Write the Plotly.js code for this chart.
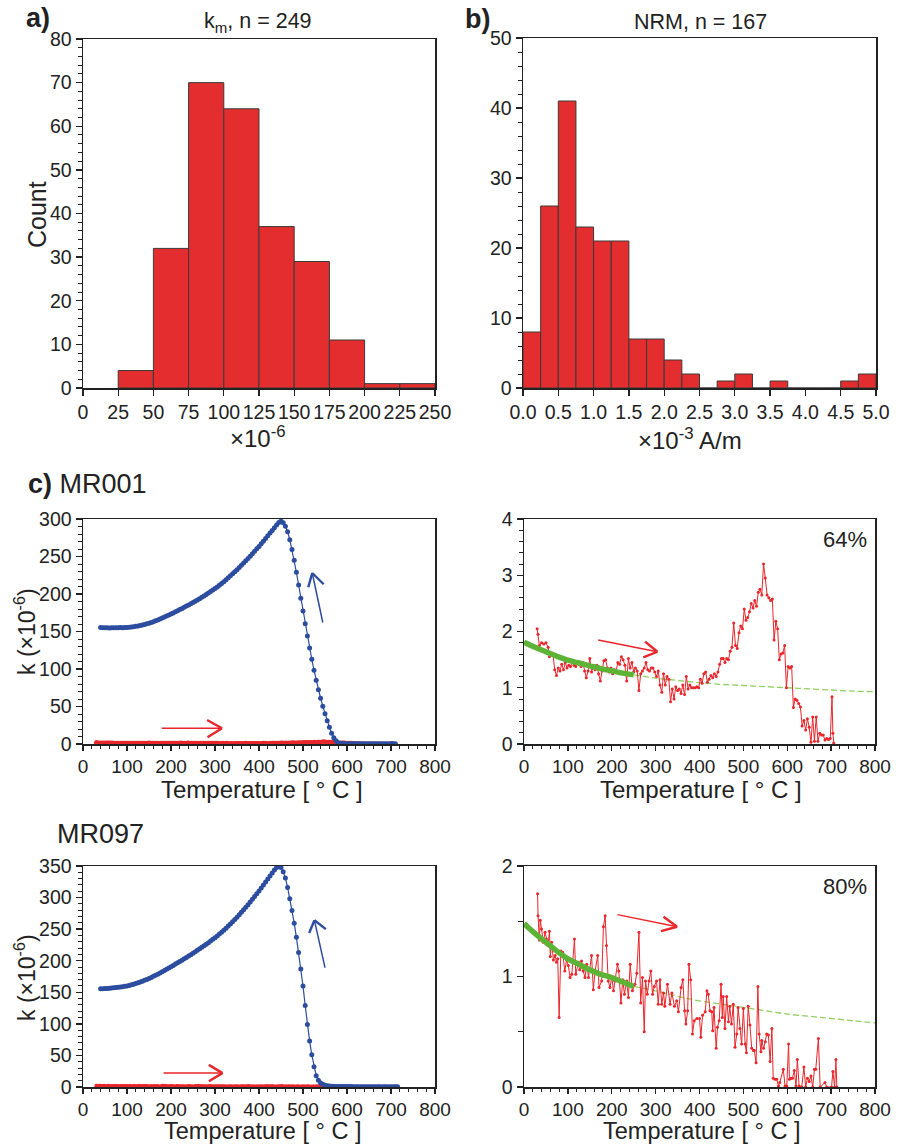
<!DOCTYPE html>
<html>
<head>
<meta charset="utf-8">
<script src="https://cdn.plot.ly/plotly-3.0.1.min.js"></script>
<style>html,body{margin:0;padding:0;background:#fff;}#chart{width:898px;height:1144px;}</style>
</head>
<body>
<div id="chart"></div>
<script>
// ---------- a) histogram of km ----------
const kmBinStart = [25,50,75,100,125,150,175,200,225];
const kmCount    = [4,32,70,64,37,29,11,1,1];
// ---------- b) histogram of NRM ----------
const nrmBinStart = [0,0.25,0.5,0.75,1.0,1.25,1.5,1.75,2.0,2.25,2.5,2.75,3.0,3.25,3.5,3.75,4.0,4.25,4.5,4.75];
const nrmCount    = [8,26,41,23,21,21,7,7,4,2,0,1,2,0,1,0,0,0,1,2];

// ---------- MR001 blue (cooling) ----------
const tBlue001 = [40,45,50,55,60,65,70,75,80,85,90,95,
 100,105,110,115,120,125,130,135,140,145,150,155,160,165,170,175,180,185,190,195,
 200,205,210,215,220,225,230,235,240,245,250,255,260,265,270,275,280,285,290,295,
 300,305,310,315,320,325,330,335,340,345,350,355,360,365,370,375,380,385,390,395,
 400,405,410,415,420,425,430,435,440,445,450,455,460,465,470,475,480,485,490,495,
 500,505,510,515,520,525,530,535,540,545,550,555,560,565,570,575,580,585,590,595,
 600,605,610,615,620,625,630,635,640,645,650,655,660,665,670,675,680,685,690,695,700,705,710];
const kBlue001 = [155.2,155.0,154.9,155.0,154.8,155.0,155.1,154.9,155.0,155.2,155.1,155.3,
 155.5,155.7,156.0,156.4,156.9,157.4,158.0,158.7,159.4,160.2,161.0,162.0,163.1,164.2,165.4,166.6,167.9,169.2,170.6,171.9,
 173.3,174.8,176.3,177.8,179.3,180.8,182.3,183.9,185.5,187.1,188.7,190.4,192.1,193.8,195.6,197.4,199.3,201.2,203.2,205.2,
 207.3,209.5,211.8,214.1,216.5,219.0,221.6,224.2,226.9,229.7,232.5,235.4,238.3,241.3,244.3,247.4,250.5,253.7,256.9,260.2,
 263.5,266.9,270.4,274.0,277.6,281.2,284.8,288.4,292.0,295.5,297.0,295.0,290.5,283.0,272.5,259.5,245.0,229.0,212.0,194.5,
 177.5,160.5,144.0,128.0,113.0,98.5,85.0,72.5,61.0,50.5,40.5,31.0,22.5,14.5,8.5,4.2,1.8,0.9,0.6,0.5,
 0.4,0.4,0.5,0.3,0.4,0.3,0.4,0.3,0.3,0.4,0.3,0.3,0.2,0.3,0.3,0.2,0.3,0.2,0.3,0.2,0.2,0.3,0.2];

// ---------- MR097 blue (cooling) ----------
const tBlue097 = [40,45,50,55,60,65,70,75,80,85,90,95,
 100,105,110,115,120,125,130,135,140,145,150,155,160,165,170,175,180,185,190,195,
 200,205,210,215,220,225,230,235,240,245,250,255,260,265,270,275,280,285,290,295,
 300,305,310,315,320,325,330,335,340,345,350,355,360,365,370,375,380,385,390,395,
 400,405,410,415,420,425,430,435,440,445,450,455,460,465,470,475,480,485,490,495,
 500,505,510,515,520,525,530,535,540,545,550,555,560,565,570,575,
 580,585,590,595,600,605,610,615,620,625,630,635,640,645,650,655,660,665,670,675,680,685,690,695,700,705,710,715];
const kBlue097 = [155.5,155.6,155.8,156.0,156.3,156.6,157.0,157.4,157.8,158.3,158.8,159.4,
 160.0,160.9,161.9,162.9,164.0,165.1,166.3,167.6,168.9,170.4,171.9,173.5,175.2,176.9,178.7,180.6,182.5,184.5,186.5,188.5,
 190.6,192.6,194.7,196.8,198.8,200.9,203.0,205.1,207.3,209.5,211.8,214.1,216.4,218.8,221.2,223.6,226.1,228.6,231.2,233.8,
 236.5,239.3,242.2,245.2,248.3,251.5,254.8,258.2,261.7,265.3,269.0,272.8,276.7,280.6,284.6,288.7,292.9,297.2,301.6,306.1,
 310.6,315.2,319.9,324.6,329.4,334.2,339.0,343.6,347.5,349.5,347.5,341.0,331.0,316.0,298.0,279.5,259.5,237.0,213.0,187.0,
 160.0,129.0,99.0,73.0,51.0,32.0,18.0,10.5,6.5,4.2,2.8,2.0,1.5,1.2,1.0,0.9,
 0.8,0.8,0.7,0.7,0.6,0.6,0.6,0.5,0.5,0.5,0.5,0.4,0.4,0.4,0.4,0.4,0.3,0.3,0.3,0.3,0.3,0.3,0.3,0.2,0.2,0.2,0.2,0.2];

// ---------- MR001 red (heating) ----------
const tRed001 = [30,32,35,40,45,50,55,58,62,66,
 70,74,78,82,86,90,94,98,102,106,
 110,114,118,122,126,130,134,138,142,146,
 150,154,158,162,166,170,174,178,182,186,
 190,194,198,202,206,210,214,218,222,226,
 230,234,238,242,246,250,254,258,262,266,
 270,274,278,282,286,290,294,298,302,306,
 310,314,318,322,326,330,334,338,342,346,
 350,354,358,362,366,370,374,378,382,386,
 390,394,398,402,406,410,414,418,422,426,
 430,434,438,442,446,450,454,458,462,466,
 470,474,478,482,486,490,494,498,502,506,
 510,514,518,522,526,530,534,538,542,546,
 550,554,558,562,566,570,574,578,582,586,
 590,594,598,602,606,610,614,618,622,626,
 630,634,638,642,646,650,654,658,662,666,
 670,674,678,682,686,690,694,698,702,704,
 706];
const kRed001 = [2.05,1.95,1.75,1.80,1.78,1.80,1.72,1.55,1.60,1.60,
 1.32,1.22,1.35,1.30,1.42,1.32,1.45,1.35,1.40,1.38,
 1.45,1.40,1.38,1.45,1.42,1.38,1.45,1.30,1.18,1.30,
 1.52,1.28,1.38,1.32,1.40,1.25,1.12,1.30,1.48,1.50,
 1.35,1.28,1.35,1.25,1.32,1.30,1.45,1.42,1.55,1.50,
 1.40,1.12,1.52,1.35,1.45,1.28,1.35,1.30,0.95,1.25,
 1.30,1.35,1.45,1.32,1.30,1.35,1.35,1.28,1.20,1.30,
 1.05,0.92,1.25,1.05,1.20,1.15,0.75,0.98,0.80,1.02,
 0.95,0.98,0.90,1.05,0.88,1.20,0.98,1.05,1.00,1.00,
 1.00,1.02,1.00,1.15,1.08,1.25,1.28,1.10,1.15,1.22,
 1.18,1.25,1.20,1.28,1.42,1.52,1.52,1.45,1.52,1.50,
 1.65,1.72,2.15,1.75,1.70,1.98,2.10,2.05,2.40,2.20,
 2.25,2.35,2.50,2.42,2.55,2.45,2.70,2.75,2.65,3.20,
 2.95,2.65,2.60,2.55,2.58,1.85,2.18,2.05,1.50,1.60,
 1.62,1.75,1.00,1.38,1.35,1.38,0.65,0.80,0.78,0.72,
 0.66,0.32,0.42,0.25,0.45,0.30,0.03,0.48,0.05,0.48,
 0.05,0.19,0.16,0.16,0.07,0.10,0.08,0.10,0.84,0.19,
 0.02];

// ---------- MR097 red (heating) ----------
const tRed097 = [31,32,35,37,40,44,48,51,55,58,
 60,63,67,71,74,77,80,84,88,93,
 97,101,105,109,115,118,124,127,131,135,
 139,143,147,154,158,162,168,171,177,181,
 185,188,192,196,200,204,207,213,216,221,
 225,229,234,238,242,247,253,257,262,266,
 270,274,277,281,285,289,293,297,302,306,
 310,314,318,321,327,333,337,343,348,352,
 358,362,366,369,373,376,380,384,388,394,
 400,403,407,413,417,420,424,428,430,433,
 438,441,445,449,452,454,458,462,466,469,
 473,477,481,485,488,492,496,500,504,507,
 511,515,519,523,525,529,533,536,540,542,
 546,550,553,557,561,565,568,572,576,580,
 583,591,595,599,603,605,609,612,616,620,
 623,627,633,638,642,646,650,654,658,662,
 665,671,675,686,690,701,704,708,711,713];
const kRed097 = [1.75,1.55,1.33,1.51,1.43,1.31,1.40,1.34,1.28,1.41,
 1.18,1.31,1.15,1.19,1.13,1.16,0.63,1.23,1.22,1.05,
 1.15,1.10,0.99,1.02,1.34,1.02,1.13,1.06,1.14,1.05,
 0.99,1.11,0.99,1.19,0.88,1.05,1.19,0.90,0.96,1.45,
 1.55,1.28,0.96,0.90,1.00,0.87,0.96,1.11,1.05,0.76,
 0.97,0.84,0.96,0.81,1.11,0.87,0.93,1.03,1.40,0.76,
 0.99,0.50,0.96,0.84,0.96,1.05,0.84,0.91,0.96,0.75,
 0.97,0.75,0.85,0.73,0.93,0.75,0.85,0.73,0.78,0.68,
 0.90,0.97,0.69,0.57,0.69,1.11,0.97,0.48,0.60,0.62,
 0.62,0.45,0.65,0.68,0.87,0.84,0.69,0.68,0.51,0.72,
 0.35,0.54,0.60,0.93,0.63,0.82,0.53,0.82,0.59,0.73,
 0.57,0.75,0.36,0.48,0.72,0.53,0.39,0.71,0.39,0.31,
 0.73,0.56,0.35,0.33,0.33,0.22,0.91,0.48,0.32,0.42,
 0.35,0.41,0.48,0.47,0.23,0.53,0.08,0.07,0.07,0.01,
 0.04,0.16,0.01,0.01,0.39,0.07,0.08,0.08,0.15,0.01,
 0.25,0.01,0.00,0.18,0.00,0.08,0.05,0.10,0.00,0.16,
 0.16,0.44,0.00,0.04,0.00,0.00,0.14,0.00,0.25,0.00];

// ---------- fitted (Curie-Weiss) curves ----------
const fitT   = [0,25,50,75,100,125,150,175,200,225,250,300,350,400,450,500,550,600,650,700,750,800];
const fit001 = [1.81,1.72,1.64,1.56,1.49,1.44,1.39,1.34,1.30,1.26,1.23,1.17,1.13,1.09,1.06,1.04,1.02,1.00,0.98,0.96,0.94,0.93];
const fit097 = [1.48,1.39,1.31,1.23,1.16,1.11,1.06,1.02,0.99,0.95,0.91,0.87,0.82,0.78,0.75,0.72,0.69,0.66,0.64,0.62,0.60,0.58];
const fitSplit = 10; // index of 250 °C: solid fit range ends here

const percent001 = '64%';
const percent097 = '80%';

// ---------- styles ----------
const FONT = 'Arial, "Liberation Sans", Helvetica, sans-serif';
const BAR_FILL = '#e42d2f', BAR_EDGE = '#3a3a3a';
const BLUE = '#2c4d9f', RED = '#e8262b', GREEN = '#5cb335', GREEN_LIGHT = '#8fd25f';
const INK = '#222';

const data = [];
data.push({type:'bar', x:kmBinStart, y:kmCount, width:25, offset:0, xaxis:'x', yaxis:'y',
  marker:{color:BAR_FILL, line:{color:BAR_EDGE, width:1}}, hoverinfo:'skip'});
data.push({type:'bar', x:nrmBinStart, y:nrmCount, width:0.25, offset:0, xaxis:'x2', yaxis:'y2',
  marker:{color:BAR_FILL, line:{color:BAR_EDGE, width:1}}, hoverinfo:'skip'});

// MR001 left
data.push({type:'scatter', mode:'lines+markers', x:tRed001, y:kRed001, xaxis:'x3', yaxis:'y3',
  line:{color:RED, width:2.5}, marker:{color:RED, size:4.5}});
data.push({type:'scatter', mode:'lines+markers', x:tBlue001, y:kBlue001, xaxis:'x3', yaxis:'y3',
  line:{color:BLUE, width:1.2}, marker:{color:BLUE, size:5}});
// MR001 right
data.push({type:'scatter', mode:'lines', x:fitT.slice(fitSplit), y:fit001.slice(fitSplit), xaxis:'x4', yaxis:'y4',
  line:{color:GREEN_LIGHT, width:1.3, dash:'6px,3px', shape:'spline'}});
data.push({type:'scatter', mode:'lines+markers', x:tRed001, y:kRed001, xaxis:'x4', yaxis:'y4',
  line:{color:RED, width:1}, marker:{color:RED, size:3}});
data.push({type:'scatter', mode:'lines', x:fitT.slice(0,fitSplit+1), y:fit001.slice(0,fitSplit+1), xaxis:'x4', yaxis:'y4',
  line:{color:GREEN, width:5.5, shape:'spline'}});
// MR097 left
data.push({type:'scatter', mode:'lines+markers', x:tRed097, y:kRed097, xaxis:'x5', yaxis:'y5',
  line:{color:RED, width:2.5}, marker:{color:RED, size:4.5}});
data.push({type:'scatter', mode:'lines+markers', x:tBlue097, y:kBlue097, xaxis:'x5', yaxis:'y5',
  line:{color:BLUE, width:1.2}, marker:{color:BLUE, size:5}});
// MR097 right
data.push({type:'scatter', mode:'lines', x:fitT.slice(fitSplit), y:fit097.slice(fitSplit), xaxis:'x6', yaxis:'y6',
  line:{color:GREEN_LIGHT, width:1.3, dash:'6px,3px', shape:'spline'}});
data.push({type:'scatter', mode:'lines+markers', x:tRed097, y:kRed097, xaxis:'x6', yaxis:'y6',
  line:{color:RED, width:1}, marker:{color:RED, size:3}});
data.push({type:'scatter', mode:'lines', x:fitT.slice(0,fitSplit+1), y:fit097.slice(0,fitSplit+1), xaxis:'x6', yaxis:'y6',
  line:{color:GREEN, width:5.5, shape:'spline'}});

const W = 898, H = 1144;
const px = v => v / W, py = v => 1 - v / H;

function ax(extra){
  return Object.assign({showline:true, linecolor:INK, linewidth:1.5, mirror:true,
    ticks:'outside', ticklen:6, tickwidth:1.3, tickcolor:INK, showgrid:false, zeroline:false,
    tickangle:0, tickfont:{size:19.5, color:INK, family:FONT}, fixedrange:true}, extra);
}
function minor(d, len){ return {dtick:d, ticks:'outside', ticklen:len||3.5, tickwidth:1, tickcolor:INK, showgrid:false}; }
const xTickFont = {size:19, color:INK, family:FONT};

const XL = [px(83), px(435)], XR1 = [px(523), px(876)], XR = [px(524), px(875)];

const layout = {
  width:W, height:H, margin:{l:0,r:0,t:0,b:0}, showlegend:false,
  paper_bgcolor:'#fff', plot_bgcolor:'#fff', font:{family:FONT, color:INK}, bargap:0,
  xaxis: ax({domain:XL, range:[0,250], tickvals:[0,25,50,75,100,125,150,175,200,225,250], anchor:'y'}),
  yaxis: ax({domain:[py(388), py(39)], range:[0,80], dtick:10, minor:minor(2), anchor:'x'}),
  xaxis2: ax({domain:XR1, range:[0,5], dtick:0.5, tickformat:'.1f', anchor:'y2'}),
  yaxis2: ax({domain:[py(388), py(38)], range:[0,50], dtick:10, minor:minor(2), anchor:'x2'}),
  xaxis3: ax({domain:XL, range:[0,800], dtick:100, minor:minor(20), anchor:'y3', ticklen:5, tickfont:xTickFont}),
  yaxis3: ax({domain:[py(744), py(519)], range:[0,300], dtick:50, minor:minor(10), anchor:'x3'}),
  xaxis4: ax({domain:XR, range:[0,800], dtick:100, minor:minor(20), anchor:'y4', ticklen:5, tickfont:xTickFont}),
  yaxis4: ax({domain:[py(744), py(519)], range:[0,4], dtick:1, minor:minor(0.2), anchor:'x4'}),
  xaxis5: ax({domain:XL, range:[0,800], dtick:100, minor:minor(20), anchor:'y5', ticklen:5, tickfont:xTickFont}),
  yaxis5: ax({domain:[py(1087), py(866)], range:[0,350], dtick:50, minor:minor(10), anchor:'x5'}),
  xaxis6: ax({domain:XR, range:[0,800], dtick:100, minor:minor(20), anchor:'y6', ticklen:5, tickfont:xTickFont}),
  yaxis6: ax({domain:[py(1087), py(866)], range:[0,2], dtick:1, minor:minor(0.5, 5), anchor:'x6'}),
  annotations:[], shapes:[]
};

function txt(text, x, y, size, opts){
  layout.annotations.push(Object.assign({text:text, x:px(x), y:py(y), xref:'paper', yref:'paper',
    showarrow:false, xanchor:'center', yanchor:'middle', font:{size:size, color:INK, family:FONT}}, opts||{}));
}
txt('<b>a)</b>', 38, 18, 27);
txt('<b>b)</b>', 477, 19, 27);
txt('k<sub>m</sub>, n = 249', 258, 22, 21.5);
txt('NRM, n = 167', 700, 22, 21.5);
txt('Count', 37, 215, 25, {textangle:-90});
txt('×10<sup>-6</sup>', 258, 437, 24);
txt('×10<sup>-3</sup> A/m', 690, 439, 24);
txt('<b>c)</b> MR001', 26, 484, 27, {xanchor:'left'});
txt('MR097', 55, 834, 27, {xanchor:'left'});
txt('k (×10<sup>-6</sup>)', 25, 632, 23, {textangle:-90});
txt('k (×10<sup>-6</sup>)', 25, 978, 23, {textangle:-90});
txt('Temperature [ ° C ]', 262, 789, 24);
txt('Temperature [ ° C ]', 701, 789, 24);
txt('Temperature [ ° C ]', 262, 1131, 23.5);
txt('Temperature [ ° C ]', 701, 1131, 23.5);
txt(percent001, 845, 539, 22);
txt(percent097, 845, 886, 22);

function arrow(xr, yr, from, tip, armA, armB, color){
  const base = {type:'line', xref:xr, yref:yr, layer:'above'};
  layout.shapes.push(Object.assign({}, base, {x0:from[0], y0:from[1], x1:tip[0], y1:tip[1], line:{color:color, width:1.5}}));
  layout.shapes.push(Object.assign({}, base, {x0:armA[0], y0:armA[1], x1:tip[0], y1:tip[1], line:{color:color, width:2.4}}));
  layout.shapes.push(Object.assign({}, base, {x0:armB[0], y0:armB[1], x1:tip[0], y1:tip[1], line:{color:color, width:2.4}}));
}
arrow('x3','y3',[179,21],[316,21],[282,32],[283,9],RED);
arrow('x3','y3',[545,162],[521,228],[512,209],[547,213],BLUE);
arrow('x4','y4',[169,1.85],[304,1.64],[276,1.82],[272,1.54],RED);
arrow('x5','y5',[183,22],[317,22],[286,35],[286,9],RED);
arrow('x5','y5',[550,189],[526,264],[514,244],[552,250],BLUE);
arrow('x6','y6',[213,1.56],[349,1.45],[318,1.54],[312,1.41],RED);

Plotly.newPlot('chart', data, layout, {staticPlot:true, displayModeBar:false});
</script>
</body>
</html>
